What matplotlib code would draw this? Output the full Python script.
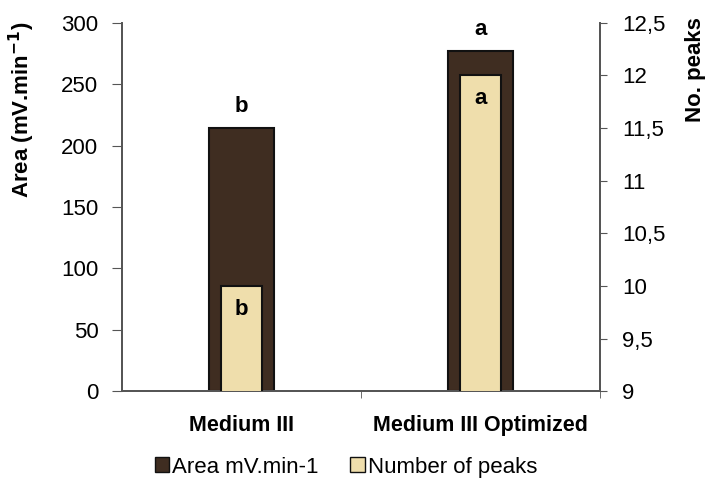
import matplotlib
matplotlib.use("Agg")
import matplotlib.pyplot as plt
from matplotlib.patches import Patch
import numpy as np

plt.rcParams['font.family'] = ['Liberation Sans', 'DejaVu Sans']

categories = ["Medium III", "Medium III Optimized"]
area_values = [214, 277]
peak_values = [10, 12]
area_letters = ["b", "a"]
peak_letters = ["b", "a"]
left_ticks = [0, 50, 100, 150, 200, 250, 300]
right_ticks = [9, 9.5, 10, 10.5, 11, 11.5, 12, 12.5]
right_tick_labels = ["9", "9,5", "10", "10,5", "11", "11,5", "12", "12,5"]

dark = "#3f2d21"
light = "#efdeac"
axis_col = "#555555"

fig = plt.figure(figsize=(7.09, 4.86), dpi=100)
ax = fig.add_axes([0.172, 0.195, 0.674, 0.758])
ax2 = ax.twinx()

x = np.arange(len(categories))
ax.bar(x, area_values, width=0.27, color=dark, edgecolor="#111111", linewidth=1.5, zorder=2)
ax2.bar(x, peak_values, width=0.17, bottom=0, color=light, edgecolor="#111111",
        linewidth=1.5, zorder=3)

ax.set_ylim(0, 300)
ax2.set_ylim(9, 12.5)
ax.set_xlim(-0.5, 1.5)

ax.set_yticks(left_ticks)
ax.set_yticklabels([str(t) for t in left_ticks], fontsize=16)
ax2.set_yticks(right_ticks)
ax2.set_yticklabels(right_tick_labels, fontsize=16)

ax.set_xticks(x)
ax.set_xticklabels(categories, fontsize=15.5, fontweight="bold")
ax.tick_params(axis="x", which="major", length=0, pad=17)
ax.set_xticks([0.5, 1.5], minor=True)
ax.tick_params(axis="x", which="minor", length=5, color=axis_col, direction="out")

ax.tick_params(axis="y", length=7, color=axis_col, direction="out", pad=10)
ax2.tick_params(axis="y", length=5, color=axis_col, direction="out", pad=11)

for a in (ax, ax2):
    a.spines["top"].set_visible(False)
    for s in ("left", "right", "bottom"):
        a.spines[s].set_color(axis_col)
        a.spines[s].set_linewidth(1.3)

ax.text(-0.209, 0.764, r"Area (mV.min$^{\mathbf{-1}}$)", transform=ax.transAxes,
        rotation=90, ha="center", va="center", fontsize=16, fontweight="bold")
ax2.text(1.201, 0.872, "No. peaks", transform=ax2.transAxes,
         rotation=90, ha="center", va="center", fontsize=16, fontweight="bold")

for xi, v, t in zip(x, area_values, area_letters):
    ax.text(xi, v + 9, t, ha="center", va="bottom", fontsize=16, fontweight="bold")
for xi, v, t in zip(x, peak_values, peak_letters):
    ax2.text(xi, v - 0.12, t, ha="center", va="top", fontsize=16, fontweight="bold", zorder=5)

handles = [Patch(facecolor=dark, edgecolor="#111111", label="Area mV.min-1"),
           Patch(facecolor=light, edgecolor="#111111", label="Number of peaks")]
fig.legend(handles=handles, loc="center", bbox_to_anchor=(0.488, 0.039), ncol=2,
           frameon=False, fontsize=16, handlelength=0.65, handleheight=0.65,
           handletextpad=0.15, columnspacing=1.4)

fig.savefig("out.png", dpi=100)
